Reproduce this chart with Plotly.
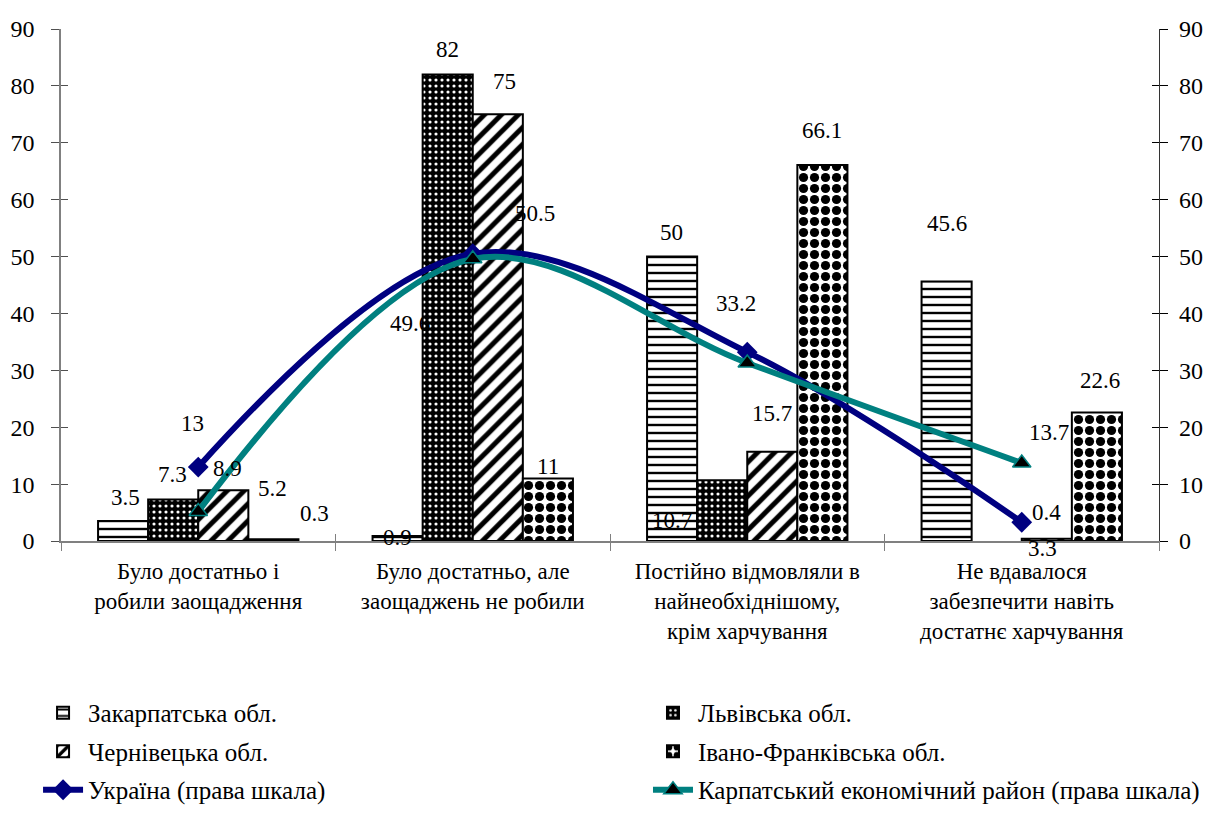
import plotly.graph_objects as go

# ---------------- data ----------------
categories = [
    "Було достатньо і<br>робили заощадження",
    "Було достатньо, але<br>заощаджень не робили",
    "Постійно відмовляли в<br>найнеобхіднішому,<br>крім харчування",
    "Не вдавалося<br>забезпечити навіть<br>достатнє харчування",
]
zakarpatska = [3.5, 0.9, 50, 45.6]
lvivska = [7.3, 82, 10.7, None]
chernivetska = [8.9, 75, 15.7, 0.4]
ivano_frankivska = [0.3, 11, 66.1, 22.6]
ukraine = [13, 50.5, 33.2, 3.3]
karpatskyi = [5.2, 49.6, 31.3, 13.7]
y_ticks = list(range(0, 91, 10))

# label visibility for line series (some labels hidden in the original)
karpat_label_show = [True, True, False, True]

# ---------------- style ----------------
FONT = "Times New Roman, Liberation Serif, serif"
FS_TICK = 24
FS_CAT = 23
FS_LAB = 23
FS_LEG = 25
BARGAP = 0.27
# label offsets in px (dx, dy up)
bar_offsets = {
    0: [(2, 24), (0, -2), (-1, 24), (0, 58)],
    1: [(-1, 25), (0, 25), (-50, -40), (0, 0)],
    2: [(4, 22), (7, 33), (0, 38), (0, 26)],
    3: [(41, 26), (0, 12), (0, 34), (3, 32)],
}
ukr_offsets = [(-6, 44), (62, 40), (-11, 49), (21, -26)]
karp_offsets = [(74, 23), (-63, -65), (0, 0), (27, 31)]

def pat(shape, fg, bg, size, solidity):
    return dict(shape=shape, fgcolor=fg, bgcolor=bg, size=size, solidity=solidity,
                fgopacity=1, fillmode="replace")

bar_series = [
    ("Закарпатська обл.", zakarpatska, pat("-", "black", "white", 8, 0.3)),
    ("Львівська обл.", lvivska, pat(".", "white", "black", 6, 0.22)),
    ("Чернівецька обл.", chernivetska, pat("/", "black", "white", 12, 0.42)),
    ("Івано-Франківська обл.", ivano_frankivska, pat(".", "black", "white", 11, 0.55)),
]
legend_for = ["legend", "legend2", "legend", "legend2"]

fig = go.Figure()
for k, (name, vals, p) in enumerate(bar_series):
    fig.add_trace(go.Bar(
        x=categories, y=vals, name=name,
        marker=dict(color="white", pattern=p, line=dict(color="black", width=2)),
        legend=legend_for[k], legendgroup=f"g{k}",
    ))

fig.add_trace(go.Scatter(
    x=categories, y=ukraine, name="Україна (права шкала)", yaxis="y2",
    mode="lines+markers", line=dict(color="#000080", width=6, shape="spline", smoothing=1.0),
    marker=dict(symbol="diamond", size=16, color="#000080"),
    legend="legend", legendgroup="g4",
))
fig.add_trace(go.Scatter(
    x=categories, y=karpatskyi, name="Карпатський економічний район (права шкала)", yaxis="y2",
    mode="lines+markers", line=dict(color="#008080", width=6, shape="spline", smoothing=1.0),
    marker=dict(symbol="triangle-up", size=16, color="black", line=dict(color="#008080", width=1.5)),
    legend="legend2", legendgroup="g5",
))
# empty traces to register overlay tick axes
fig.add_trace(go.Scatter(x=[], y=[], xaxis="x2", yaxis="y3", showlegend=False))
fig.add_trace(go.Scatter(x=[], y=[], xaxis="x2", yaxis="y4", showlegend=False))

# ---------------- value labels ----------------
w = (1 - BARGAP) / 4
lab_font = dict(family=FONT, size=FS_LAB, color="black")
annotations = []
for k, (name, vals, p) in enumerate(bar_series):
    for i, v in enumerate(vals):
        if v is None:
            continue
        dx, dy = bar_offsets[k][i]
        annotations.append(dict(
            x=i + (k - 1.5) * w, y=v, xref="x", yref="y", text=f"{v:g}",
            showarrow=False, xshift=dx, yshift=dy, font=lab_font,
        ))
for i, v in enumerate(ukraine):
    dx, dy = ukr_offsets[i]
    annotations.append(dict(x=i, y=v, xref="x", yref="y2", text=f"{v:g}", showarrow=False,
                            xshift=dx, yshift=dy, font=lab_font))
for i, v in enumerate(karpatskyi):
    if not karpat_label_show[i]:
        continue
    dx, dy = karp_offsets[i]
    annotations.append(dict(x=i, y=v, xref="x", yref="y2", text=f"{v:g}", showarrow=False,
                            xshift=dx, yshift=dy, font=lab_font))

leg_common = dict(orientation="v", y=-0.291, xanchor="left", yanchor="top",
                  itemwidth=40, tracegroupgap=3, bgcolor="rgba(0,0,0,0)",
                  font=dict(family=FONT, size=FS_LEG, color="black"), itemclick=False)

fig.update_layout(
    width=1196, height=802,
    margin=dict(l=53, r=45, t=21, b=269, autoexpand=False),
    paper_bgcolor="white", plot_bgcolor="white",
    barmode="group", bargap=BARGAP, bargroupgap=0,
    font=dict(family=FONT, size=FS_TICK, color="black"),
    xaxis=dict(type="category", range=[-0.5, 3.5], tickson="boundaries", ticks="outside",
               ticklen=8, tickcolor="#808080", showline=True, linecolor="#808080", linewidth=1.5,
               showgrid=False, ticklabelstandoff=9,
               tickfont=dict(family=FONT, size=FS_CAT, color="black")),
    xaxis2=dict(overlaying="x", range=[-0.5, 3.5], tickvals=[0.5, 1.5, 2.5], ticks="inside",
                ticklen=7, tickcolor="#808080", showticklabels=False, showgrid=False,
                zeroline=False, showline=False, anchor="y"),
    yaxis=dict(range=[0, 90], tickvals=y_ticks, ticks="outside", ticklen=8, tickcolor="#505050",
               showline=True, linecolor="#808080", linewidth=1.5, showgrid=False, zeroline=False,
               tickfont=dict(family=FONT, size=FS_TICK, color="black"), ticklabelstandoff=12),
    yaxis2=dict(range=[0, 90], tickvals=y_ticks, ticks="outside", ticklen=8, tickcolor="black",
                overlaying="y", side="right", showline=True, linecolor="#333333", linewidth=1.2,
                showgrid=False, zeroline=False, ticklabelstandoff=6,
                tickfont=dict(family=FONT, size=FS_TICK, color="black")),
    yaxis3=dict(range=[0, 90], tickvals=y_ticks, ticks="inside", ticklen=7, tickcolor="#505050",
                overlaying="y", side="left", showticklabels=False, showgrid=False, zeroline=False,
                anchor="x"),
    yaxis4=dict(range=[0, 90], tickvals=y_ticks, ticks="inside", ticklen=7, tickcolor="black",
                overlaying="y", side="right", showticklabels=False, showgrid=False, zeroline=False,
                anchor="x"),
    legend=dict(x=-0.0209, **leg_common),
    legend2=dict(x=0.5346, **leg_common),
    annotations=annotations,
)

fig.write_html("out.html")
